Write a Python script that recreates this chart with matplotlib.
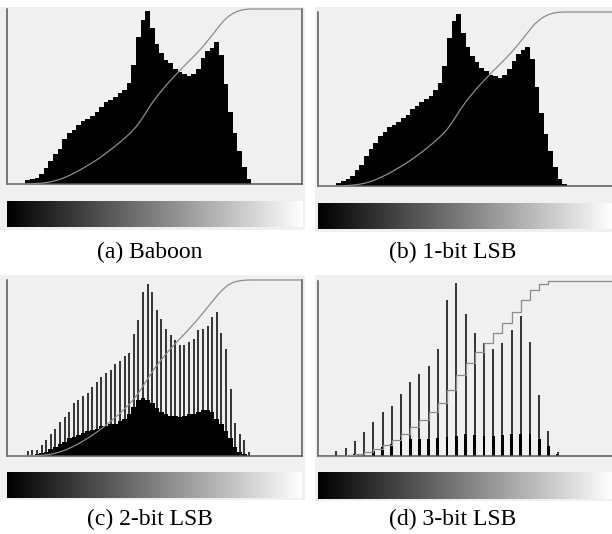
import matplotlib.pyplot as plt
import numpy as np
from matplotlib.patches import Rectangle

W, H = 612, 534
PANEL = '#f0f0f0'
SPINE = '#555555'
CDF_COLOR = '#8c8c8c'

# (a) / (b): histogram height per 4-level bin (levels 0..255), as fraction of plot height
baboon_hist = [0, 0, 0, 0,
               0.025, 0.03, 0.035, 0.06, 0.09, 0.13, 0.17, 0.20, 0.26, 0.29,
               0.31, 0.34, 0.36, 0.37, 0.39, 0.41, 0.44, 0.47, 0.48, 0.50,
               0.52, 0.54, 0.58, 0.68, 0.84, 0.94, 0.99, 0.89, 0.80, 0.75,
               0.71, 0.69, 0.66, 0.64, 0.63, 0.62, 0.63, 0.66, 0.72, 0.76,
               0.78, 0.81, 0.74, 0.57, 0.41, 0.29, 0.19, 0.10, 0.03,
               0, 0, 0, 0, 0, 0, 0, 0, 0, 0, 0]
lsb1_hist = [0, 0, 0, 0,
             0.02, 0.03, 0.04, 0.06, 0.09, 0.12, 0.17, 0.21, 0.25, 0.29,
             0.31, 0.34, 0.35, 0.37, 0.39, 0.41, 0.44, 0.46, 0.48, 0.50,
             0.52, 0.55, 0.59, 0.69, 0.85, 0.95, 0.99, 0.88, 0.80, 0.75,
             0.71, 0.68, 0.66, 0.64, 0.63, 0.62, 0.64, 0.67, 0.72, 0.76,
             0.78, 0.80, 0.73, 0.57, 0.42, 0.30, 0.20, 0.11, 0.04,
             0.01, 0, 0, 0, 0, 0, 0, 0, 0, 0, 0]

# (c) 2-bit LSB: one tall spike per group of 4 levels, plus a solid base
lsb2_levels = list(range(18, 211, 4))
lsb2_spikes = [0.027, 0.032, 0.036, 0.06, 0.089, 0.127, 0.155, 0.193, 0.22, 0.25,
               0.30, 0.32, 0.34, 0.36, 0.39, 0.42, 0.45, 0.47, 0.49, 0.52,
               0.54, 0.57, 0.585, 0.695, 0.77, 0.93, 0.98, 0.93, 0.83, 0.78,
               0.72, 0.686, 0.657, 0.63, 0.63, 0.648, 0.667, 0.714, 0.72, 0.74,
               0.79, 0.82, 0.70, 0.61, 0.38, 0.19, 0.127, 0.089, 0.023]
lsb2_base = [0, 0, 0.01, 0.015, 0.02, 0.04, 0.05, 0.07, 0.08, 0.10,
             0.11, 0.12, 0.13, 0.14, 0.15, 0.155, 0.17, 0.17, 0.18, 0.18,
             0.20, 0.21, 0.24, 0.28, 0.32, 0.33, 0.32, 0.30, 0.27, 0.25,
             0.24, 0.23, 0.23, 0.22, 0.23, 0.24, 0.24, 0.25, 0.26, 0.26,
             0.25, 0.21, 0.18, 0.14, 0.10, 0.05, 0.02, 0.01, 0.0]

# (d) 3-bit LSB: spikes every 8 levels with short stubs at their feet
lsb3_levels = list(range(16, 209, 8))
lsb3_spikes = [0.027, 0.046, 0.086, 0.137, 0.194, 0.251, 0.284, 0.352, 0.423, 0.47,
               0.512, 0.613, 0.89, 0.99, 0.81, 0.703, 0.646, 0.613, 0.646, 0.722,
               0.80, 0.65, 0.347, 0.143, 0.023]
lsb3_stubs = [0.0, 0.0, 0.01, 0.02, 0.03, 0.05, 0.07, 0.11, 0.10, 0.10,
              0.10, 0.105, 0.11, 0.113, 0.128, 0.118, 0.114, 0.114, 0.118, 0.128,
              0.128, 0.128, 0.095, 0.057, 0.013]

captions = ['(a) Baboon', '(b) 1-bit LSB', '(c) 2-bit LSB', '(d) 3-bit LSB']

fig = plt.figure(figsize=(W / 100, H / 100), dpi=100)


# helpers working in pixel coordinates (origin top-left)
def px_axes(x0, y0, x1, y1):
    return fig.add_axes([x0 / W, 1 - y1 / H, (x1 - x0) / W, (y1 - y0) / H])


def px_rect(x0, y0, x1, y1):
    fig.add_artist(Rectangle((x0 / W, 1 - y1 / H), (x1 - x0) / W, (y1 - y0) / H,
                             transform=fig.transFigure, facecolor=PANEL,
                             edgecolor='none', zorder=-1))


def hist_axes(box):
    ax = px_axes(*box)
    ax.set_facecolor(PANEL)
    ax.set_xlim(0, 256)
    ax.set_ylim(0, 1)
    ax.set_xticks([])
    ax.set_yticks([])
    ax.spines['top'].set_visible(False)
    for s in ['left', 'right', 'bottom']:
        ax.spines[s].set_color(SPINE)
        ax.spines[s].set_linewidth(1.1)
    return ax


def gradient(box):
    gax = px_axes(*box)
    gax.imshow(np.linspace(0, 1, 256)[None, :], cmap='gray', vmin=0, vmax=1,
               aspect='auto', interpolation='bilinear')
    gax.axis('off')


# panel backgrounds
px_rect(0, 7, 305, 230)
px_rect(315, 7, 612, 232)
px_rect(0, 275, 305, 500)
px_rect(315, 275, 612, 501)

edges = np.arange(0, 257, 4)

# (a) and (b): smooth histograms
for box, hist in [((7, 9, 302, 184), baboon_hist), ((318, 12, 613, 186), lsb1_hist)]:
    ax = hist_axes(box)
    ax.stairs(hist, edges, fill=True, color='black')
    cdf = np.cumsum(hist) / np.sum(hist)
    ax.plot(edges, np.r_[0, cdf], color=CDF_COLOR, lw=0.9, clip_on=False, zorder=3)

# (c) 2-bit LSB comb
ax = hist_axes((7, 280, 302, 456))
group_edges = np.arange(16, 213, 4)
ax.stairs(lsb2_base, group_edges, fill=True, color='black')
ax.vlines(lsb2_levels, 0, lsb2_spikes, color='black', lw=1.1)
mass = np.array(lsb2_spikes) + 3 * np.array(lsb2_base)
cdf = np.cumsum(mass) / mass.sum()
ax.plot(np.r_[0, group_edges, 256], np.r_[0, 0, cdf, 1], color=CDF_COLOR, lw=0.9,
        clip_on=False, zorder=3)

# (d) 3-bit LSB spikes, CDF becomes a staircase
ax = hist_axes((318, 281, 613, 456))
ax.bar(lsb3_levels, lsb3_stubs, width=2.4, color='black', linewidth=0)
ax.vlines(lsb3_levels, 0, lsb3_spikes, color='black', lw=1.1)
mass = np.array(lsb3_spikes) + np.array(lsb3_stubs)
cdf = np.cumsum(mass) / mass.sum()
ax.plot(np.r_[0, lsb3_levels, 256], np.r_[0, cdf, 1], drawstyle='steps-post',
        color=CDF_COLOR, lw=0.9, clip_on=False, zorder=3)

# gray-level gradient bars
gradient((7, 201, 303, 227))
gradient((318, 203, 613, 229))
gradient((7, 472, 302, 498))
gradient((318, 472, 613, 499))

# sub-captions
for text, (cx, by) in zip(captions, [(150, 258), (453, 258), (150, 525), (453, 525)]):
    fig.text(cx / W, 1 - by / H, text, ha='center', va='baseline',
             family='Liberation Serif', fontsize=17)

fig.savefig('out.png', dpi=100)
